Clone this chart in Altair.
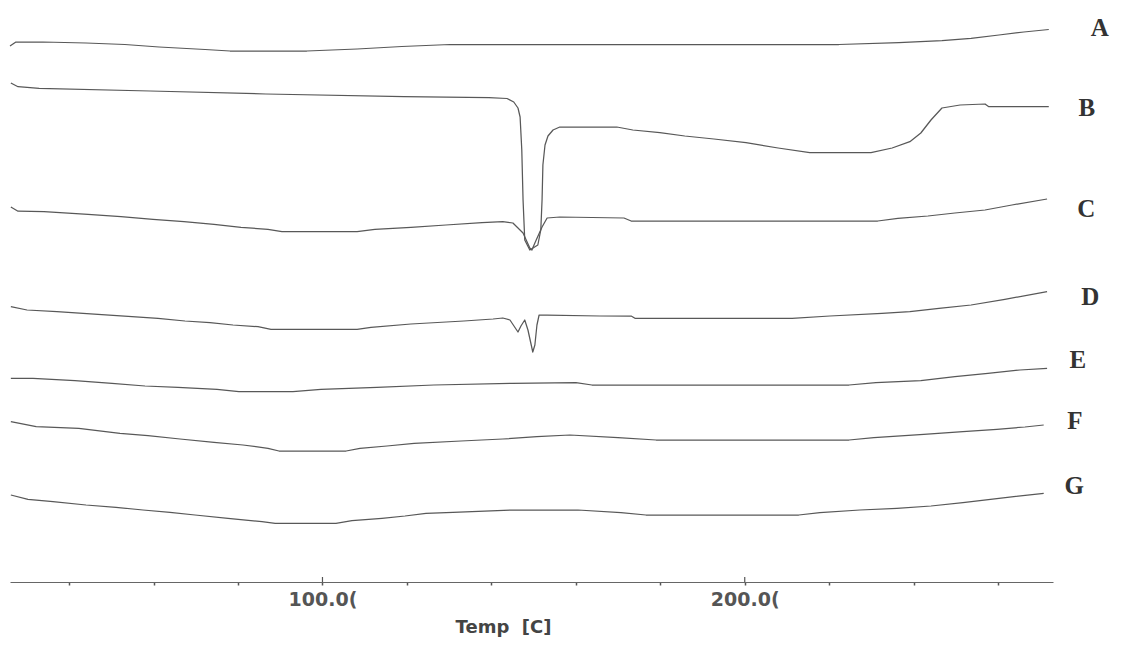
import altair as alt
import pandas as pd

# ---- curve data (temperature in C, signal in arbitrary offset units) ----
A_T = [26.0, 27.4, 33.8, 44.0, 53.2, 61.3, 72.2, 78.1, 96.3, 108.2, 118.8, 130.2, 222.3, 236.5, 246.7, 253.6, 260.2, 266.1, 272.0]
A_V = [53.6, 54.0, 54.0, 53.9, 53.75, 53.5, 53.25, 53.1, 53.1, 53.3, 53.55, 53.75, 53.75, 53.93, 54.13, 54.37, 54.7, 55.0, 55.25]

B_T = [26.2, 27.9, 32.9, 59.2, 86.6, 119.3, 139.4, 143.7, 145.3, 146.3, 146.8, 147.2, 147.5, 147.9, 149.1, 151.0, 151.7,
       152.0, 152.2, 152.7, 153.4, 154.6, 156.2, 169.7, 173.5, 179.9, 185.8, 192.7, 200.3, 207.9, 215.4, 229.9, 234.9,
       239.1, 241.7, 244.1, 246.7, 251.0, 256.9, 257.8, 272.0]
B_V = [49.9, 49.53, 49.37, 49.1, 48.8, 48.53, 48.43, 48.35, 48.0, 47.4, 46.5, 43.2, 38.2, 34.2, 33.2, 33.7, 35.2,
       38.2, 41.7, 43.7, 44.6, 45.2, 45.5, 45.5, 45.2, 44.93, 44.6, 44.3, 43.93, 43.4, 42.93, 42.93, 43.4,
       44.03, 44.9, 46.2, 47.4, 47.7, 47.8, 47.53, 47.53]

C_T = [26.2, 27.9, 34.05, 44.47, 52.28, 59.86, 67.2, 74.31, 80.7, 87.09, 90.4, 108.2, 112.4, 120.95, 129.24, 137.77,
       142.7, 145.1, 147.5, 149.1, 149.6, 150.3, 152.0, 153.2, 156.2, 171.4, 173.1, 231.5, 236.27, 243.38, 249.77,
       256.9, 263.27, 271.6]
C_V = [37.5, 37.08, 37.03, 36.77, 36.53, 36.27, 36.03, 35.77, 35.47, 35.27, 35.03, 35.03, 35.27, 35.47, 35.7, 35.93,
       36.03, 35.9, 34.9, 33.4, 33.2, 33.9, 35.5, 36.4, 36.5, 36.4, 36.1, 36.1, 36.37, 36.6, 36.9,
       37.2, 37.7, 38.3]

D_T = [26.2, 30.03, 37.13, 46.84, 54.89, 61.05, 67.44, 73.36, 78.81, 84.73, 87.8, 108.2, 111.48, 120.95, 133.5, 140.4,
       142.7, 144.4, 146.3, 147.0, 147.9, 148.66, 149.8, 150.3, 150.79, 151.3, 153.2, 165.7, 173.1, 174.0, 211.2,
       220.17, 232.49, 239.1, 246.0, 253.6, 261.6, 271.6]
D_V = [27.53, 27.2, 27.03, 26.77, 26.53, 26.37, 26.1, 25.93, 25.7, 25.53, 25.27, 25.27, 25.47, 25.8, 26.1, 26.3,
       26.4, 26.2, 25.0, 25.6, 26.2, 25.2, 23.0, 23.7, 25.7, 26.7, 26.7, 26.6, 26.6, 26.37, 26.37,
       26.6, 26.87, 27.03, 27.37, 27.7, 28.27, 29.03]

E_T = [26.2, 31.45, 41.39, 50.15, 57.97, 65.78, 75.02, 80.2, 93.0, 99.64, 112.9, 126.4, 144.87, 160.03, 163.8, 224.7,
       231.06, 241.7, 249.77, 257.58, 265.16, 271.6]
E_V = [20.37, 20.37, 20.13, 19.87, 19.6, 19.47, 19.27, 19.03, 19.03, 19.27, 19.47, 19.7, 19.87, 19.93, 19.7, 19.7,
       19.93, 20.13, 20.53, 20.87, 21.2, 21.37]

F_T = [26.2, 32.2, 42.3, 52.05, 58.68, 66.26, 74.31, 81.17, 87.09, 89.7, 105.6, 108.88, 115.27, 121.7, 132.8, 142.7,
       150.79, 158.6, 169.97, 179.0, 224.7, 230.59, 242.4, 251.67, 259.72, 266.35, 270.8]
F_V = [16.03, 15.53, 15.37, 14.87, 14.63, 14.3, 13.97, 13.7, 13.37, 13.1, 13.1, 13.37, 13.6, 13.87, 14.1, 14.3,
       14.53, 14.7, 14.43, 14.2, 14.2, 14.43, 14.77, 15.03, 15.27, 15.5, 15.7]

G_T = [26.2, 30.26, 36.18, 44.0, 51.1, 57.49, 63.89, 69.81, 77.62, 85.67, 88.8, 103.2, 106.98, 114.09, 119.54, 124.51,
       130.9, 145.3, 160.5, 170.68, 176.6, 212.8, 217.8, 227.28, 236.04, 244.1, 251.67, 260.2, 270.8]
G_V = [8.7, 8.27, 8.03, 7.7, 7.47, 7.2, 6.97, 6.7, 6.37, 6.03, 5.87, 5.87, 6.13, 6.37, 6.6, 6.87,
       6.97, 7.2, 7.2, 6.93, 6.7, 6.7, 6.93, 7.2, 7.37, 7.6, 7.93, 8.37, 8.87]

# ---- curve labels ----
LABELS = ["A", "B", "C", "D", "E", "F", "G"]
LABEL_T = [284.1, 281.0, 280.9, 281.8, 278.9, 278.2, 278.0]
LABEL_V = [55.4, 47.4, 37.3, 28.5, 22.2, 16.1, 9.6]

# ---- axis ticks ----
TICK_VALUES = [40, 60, 80, 100, 120, 140, 160, 180, 200, 220, 240, 260]
TICK_LABELS = {100: "100.0(", 200: "200.0("}
MAJOR_TICKS = [100, 200]
X_DOMAIN = [26, 273]
Y_DOMAIN = [0, 57.2]

series = {"A": (A_T, A_V), "B": (B_T, B_V), "C": (C_T, C_V), "D": (D_T, D_V),
          "E": (E_T, E_V), "F": (F_T, F_V), "G": (G_T, G_V)}
rows = []
for name, (ts, vs) in series.items():
    for i, (t, v) in enumerate(zip(ts, vs)):
        rows.append({"curve": name, "i": i, "temp": t, "sig": v})
df = pd.DataFrame(rows)

lab_df = pd.DataFrame({"label": LABELS, "temp": LABEL_T, "sig": LABEL_V})
major_df = pd.DataFrame({"temp": MAJOR_TICKS, "y0": [0.0] * len(MAJOR_TICKS), "y1": [0.5] * len(MAJOR_TICKS)})

label_expr = " : ".join(f"datum.value == {k} ? '{v}'" for k, v in TICK_LABELS.items()) + " : ''"

xscale = alt.Scale(domain=X_DOMAIN, nice=False, zero=False)
yscale = alt.Scale(domain=Y_DOMAIN, nice=False, zero=False)

xaxis = alt.Axis(
    values=TICK_VALUES, labelExpr=label_expr, title="Temp\u00a0\u00a0[C]",
    grid=False, domainColor="#666", domainWidth=1, tickColor="#555", tickSize=3, tickWidth=1.5,
    labelFont="DejaVu Sans", labelFontSize=19, labelFontWeight="bold", labelColor="#555",
    labelPadding=5, labelOverlap=False, labelFlush=False,
    titleFont="DejaVu Sans", titleFontSize=18, titleFontWeight="bold", titleColor="#444",
    titleX=493, titleY=45, titleBaseline="middle", titleAlign="center",
)

lines = alt.Chart(df).mark_line(color="#585858", strokeWidth=1.25, strokeJoin="round").encode(
    x=alt.X("temp:Q", scale=xscale, axis=xaxis),
    y=alt.Y("sig:Q", scale=yscale, axis=None),
    detail="curve:N",
    order="i:Q",
)

labels = alt.Chart(lab_df).mark_text(
    font="Liberation Serif", fontSize=25, fontWeight="bold", color="#333", align="center", baseline="middle"
).encode(
    x=alt.X("temp:Q", scale=xscale),
    y=alt.Y("sig:Q", scale=yscale),
    text="label:N",
)

majors = alt.Chart(major_df).mark_rule(color="#555", strokeWidth=1.2).encode(
    x=alt.X("temp:Q", scale=xscale),
    y=alt.Y("y0:Q", scale=yscale),
    y2="y1:Q",
)

chart = alt.layer(lines, majors, labels).properties(
    width=1043, height=572,
    autosize=alt.AutoSizeParams(type="none"),
    padding={"left": 2, "top": 2, "right": 58, "bottom": 61},
    background="white",
).configure_view(stroke=None)

chart.save("out.html", embed_options={"renderer": "svg", "actions": False})
